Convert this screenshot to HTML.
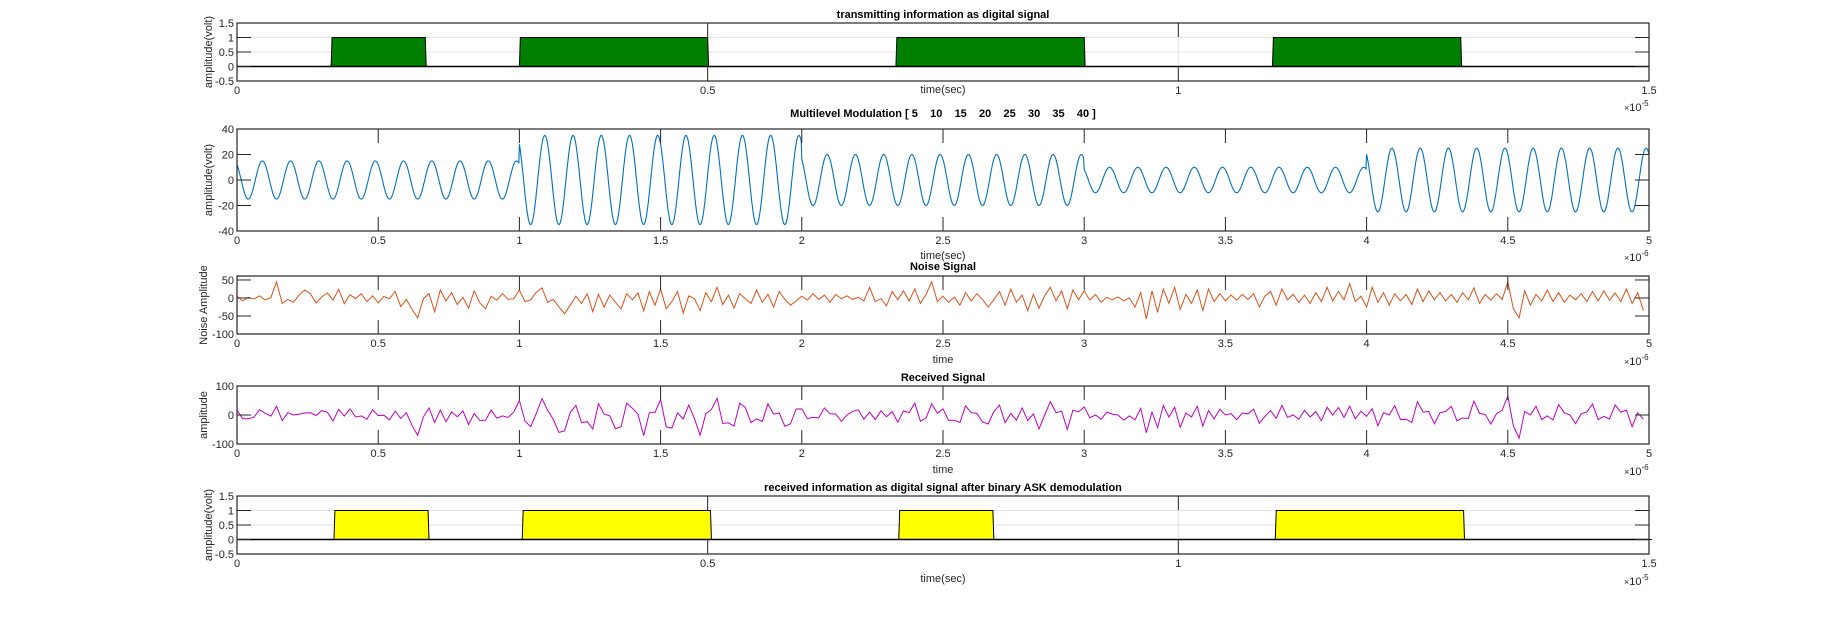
<!DOCTYPE html>
<html><head><meta charset="utf-8"><style>
html,body{margin:0;padding:0;background:#fff;}
svg{display:block;font-family:"Liberation Sans",Arial,sans-serif;}
text{white-space:pre;}
</style></head><body>
<svg id="fig" width="1825" height="639" viewBox="0 0 1825 639" xmlns="http://www.w3.org/2000/svg"></svg>
<script>
// ---- data ----
const txBits = [0,1,0,1,1,0,0,1,1,0,0,1,1,0,0];
const rxBits = [0,1,0,1,1,0,0,1,0,0,0,1,1,0,0];
const levels = [5,10,15,20,25,30,35,40];
const symbolAmps = [15,35,20,10,25];
const noiseVals = [
5,-8,2,-3,6,-6,1,45,-15,-4,-12,8,22,12,-14,3,14,-6,24,-16,9,-2,12,-10,6,
-14,4,-2,18,-24,-4,-32,-55,-2,12,-38,22,-8,15,-18,2,-28,20,-14,-30,5,-6,12,-4,-2,
22,-10,-5,16,28,-12,-4,-25,-44,-20,5,-15,12,-38,10,-25,8,-12,-30,12,-5,14,-36,18,-20,
25,-30,-10,18,-42,6,-2,-35,15,-10,30,-18,8,-28,12,-2,-15,22,-12,10,-25,18,-4,-20,-8,
5,-6,12,-4,8,-12,10,-2,6,-4,2,-8,30,-10,-2,-22,18,-5,20,-8,25,-15,10,45,-10,
5,-12,2,-20,15,-8,12,-4,-25,-5,18,-20,25,-12,8,-35,10,-28,6,30,-8,20,-30,22,-5,
20,-6,10,-12,2,-5,3,-8,0,-25,15,-58,20,-40,25,-15,30,-32,10,-15,22,-35,25,-10,12,
-8,8,-6,10,-4,12,-25,5,18,-20,25,-5,10,-12,8,-15,15,-10,30,-8,18,-5,40,-10,5,
-25,30,-12,15,-20,12,-8,10,-18,25,-10,20,-5,15,-8,10,-12,15,-5,28,-15,10,-6,12,-4,
45,-30,-55,20,-20,10,-8,22,-10,15,-12,8,-5,12,-10,18,-8,20,-6,14,-10,25,-15,15,-35];
const ticks15 = ["0","0.5","1","1.5"];
const ticks5 = ["0","0.5","1","1.5","2","2.5","3","3.5","4","4.5","5"];

const NS="http://www.w3.org/2000/svg";
const svg=document.getElementById('fig');
function mk(tag,attrs,parent){const e=document.createElementNS(NS,tag);for(const k in attrs)e.setAttribute(k,attrs[k]);(parent||svg).appendChild(e);return e;}
const L=237,R=1649;

function axes(cfg){
  const g=mk('g',{});
  
  
  const sx=v=>L+(v-cfg.x0)/(cfg.x1-cfg.x0)*(R-L);
  const sy=v=>cfg.bot-(v-cfg.y0)/(cfg.y1-cfg.y0)*(cfg.bot-cfg.top);
  mk('rect',{x:L,y:cfg.top,width:R-L,height:cfg.bot-cfg.top,fill:'#fff'},g);
  if(cfg.grid){
    cfg.yt.forEach(v=>{if(v>cfg.y0&&v<cfg.y1)mk('line',{x1:L,x2:R,y1:sy(v),y2:sy(v),stroke:'#e3e3e3','stroke-width':1},g);});
    cfg.xt.forEach(v=>{if(v>cfg.x0&&v<cfg.x1)mk('line',{x1:sx(v),x2:sx(v),y1:cfg.top,y2:cfg.bot,stroke:'#e3e3e3','stroke-width':1},g);});
  }
  cfg.g=g;cfg.sx=sx;cfg.sy=sy;return cfg;
}
function frame(cfg){
  const g=cfg.g;
  mk('rect',{x:L,y:cfg.top,width:R-L,height:cfg.bot-cfg.top,fill:'none',stroke:'#262626','stroke-width':1.2},g);
  cfg.xt.forEach((v,i)=>{const x=cfg.sx(v);
    mk('line',{x1:x,x2:x,y1:cfg.top,y2:cfg.top+14,stroke:'#262626'},g);
    mk('line',{x1:x,x2:x,y1:cfg.bot,y2:cfg.bot-14,stroke:'#262626'},g);
    const t=mk('text',{x:x,y:cfg.bot+13,'font-size':11,fill:'#262626','text-anchor':'middle'},g);t.textContent=cfg.xl[i];
    
    
  });
  cfg.yt.forEach((v,i)=>{const y=cfg.sy(v);
    mk('line',{x1:L,x2:L+14,y1:y,y2:y,stroke:'#262626'},g);
    mk('line',{x1:R,x2:R-14,y1:y,y2:y,stroke:'#262626'},g);
    const t=mk('text',{x:L-3,y:y+4,'font-size':11,fill:'#262626','text-anchor':'end'},g);t.textContent=cfg.yl[i];
    
    
  });
  const ti=mk('text',{x:943,y:cfg.titleY+4,'font-size':11,'font-weight':'bold',fill:'#000','text-anchor':'middle','xml:space':'preserve'},g);ti.textContent=cfg.title;
  
  
  const xl=mk('text',{x:943,y:cfg.xlabY+4,'font-size':11,fill:'#262626','text-anchor':'middle'},g);xl.textContent=cfg.xlab;
  
  
  const cy=(cfg.top+cfg.bot)/2;
  const yl=mk('text',{x:cfg.ylabX,y:cy,'font-size':11,fill:'#262626','text-anchor':'middle',transform:`rotate(-90 ${cfg.ylabX} ${cy})`},g);yl.textContent=cfg.ylab;
  
  
  const ex=mk('text',{x:1624,y:cfg.expY+4,'font-size':11,fill:'#262626'},g);
  
  
  ex.innerHTML=`<tspan font-size="9">×</tspan>10<tspan dy="-5" font-size="8">${cfg.exp}</tspan>`;
}
function pulses(cfg,bits,fill,shift,name){
  const pts=[];const T=0.1;
  bits.forEach((b,i)=>{pts.push([i*T+shift+0.001,b]);pts.push([(i+1)*T+shift,b]);});
  let d=`M${cfg.sx(0)},${cfg.sy(0)}`;
  pts.forEach(p=>{d+=`L${cfg.sx(p[0])},${cfg.sy(p[1])}`;});
  d+=`L${cfg.sx(1.5)},${cfg.sy(0)}Z`;
  const p=mk('path',{d:d,fill:fill,stroke:'#000','stroke-width':1},cfg.g);
  
  
  mk('line',{x1:L,x2:R,y1:cfg.sy(0),y2:cfg.sy(0),stroke:'#000','stroke-width':1.5},cfg.g);
}
function modAt(t){const k=Math.min(symbolAmps.length-1,Math.floor(t));return symbolAmps[k]*Math.cos(2*Math.PI*10*t+0.64);}

// Plot 1
const p1=axes({name:'tx-digital-plot',top:23,bot:81,x0:0,x1:1.5,y0:-0.5,y1:1.5,xt:[0,0.5,1,1.5],xl:ticks15,yt:[-0.5,0,0.5,1,1.5],yl:["-0.5","0","0.5","1","1.5"],grid:true,title:'transmitting information as digital signal',titleY:14,xlab:'time(sec)',xlabY:89,ylab:'amplitude(volt)',ylabX:212,exp:'-5',expY:107});
pulses(p1,txBits,'#007f00',0,'tx-pulses');frame(p1);

// Plot 2
const p2=axes({name:'modulation-plot',top:129,bot:231,x0:0,x1:5,y0:-40,y1:40,xt:[0,.5,1,1.5,2,2.5,3,3.5,4,4.5,5],xl:ticks5,yt:[-40,-20,0,20,40],yl:["-40","-20","0","20","40"],grid:false,title:'Multilevel Modulation [ ' + levels.join('    ') + ' ]',titleY:113,xlab:'time(sec)',xlabY:255,ylab:'amplitude(volt)',ylabX:212,exp:'-6',expY:257});
{let d='';for(let i=0;i<=2500;i++){const t=i*5/2500;d+=(i?'L':'M')+p2.sx(t).toFixed(1)+','+p2.sy(modAt(t)).toFixed(1);}
const pl=mk('path',{d:d,fill:'none',stroke:'#0072bd','stroke-width':1.1},p2.g);

}
frame(p2);

// Plot 3
const p3=axes({name:'noise-plot',top:276,bot:334,x0:0,x1:5,y0:-100,y1:61,xt:[0,.5,1,1.5,2,2.5,3,3.5,4,4.5,5],xl:ticks5,yt:[-100,-50,0,50],yl:["-100","-50","0","50"],grid:false,title:'Noise Signal',titleY:266,xlab:'time',xlabY:359,ylab:'Noise Amplitude',ylabX:207,exp:'-6',expY:361});
{let d='';noiseVals.forEach((v,i)=>{const t=i*5/noiseVals.length;d+=(i?'L':'M')+p3.sx(t).toFixed(1)+','+p3.sy(v).toFixed(1);});
const pl=mk('path',{d:d,fill:'none',stroke:'#d95319','stroke-width':1},p3.g);

}
frame(p3);

// Plot 4
const p4=axes({name:'received-plot',top:386,bot:444,x0:0,x1:5,y0:-100,y1:100,xt:[0,.5,1,1.5,2,2.5,3,3.5,4,4.5,5],xl:ticks5,yt:[-100,0,100],yl:["-100","0","100"],grid:false,title:'Received Signal',titleY:377,xlab:'time',xlabY:469,ylab:'amplitude',ylabX:207,exp:'-6',expY:471});
{let d='';noiseVals.forEach((v,i)=>{const t=i*5/noiseVals.length;d+=(i?'L':'M')+p4.sx(t).toFixed(1)+','+p4.sy(v+modAt(t)).toFixed(1);});
const pl=mk('path',{d:d,fill:'none',stroke:'#bf00bf','stroke-width':1},p4.g);

}
frame(p4);

// Plot 5
const p5=axes({name:'rx-digital-plot',top:496,bot:554,x0:0,x1:1.5,y0:-0.5,y1:1.5,xt:[0,0.5,1,1.5],xl:ticks15,yt:[-0.5,0,0.5,1,1.5],yl:["-0.5","0","0.5","1","1.5"],grid:true,title:'received information as digital signal after binary ASK demodulation',titleY:487,xlab:'time(sec)',xlabY:578,ylab:'amplitude(volt)',ylabX:212,exp:'-5',expY:581});
pulses(p5,rxBits,'#ffff00',0.003,'rx-pulses');frame(p5);
</script>
</body></html>
